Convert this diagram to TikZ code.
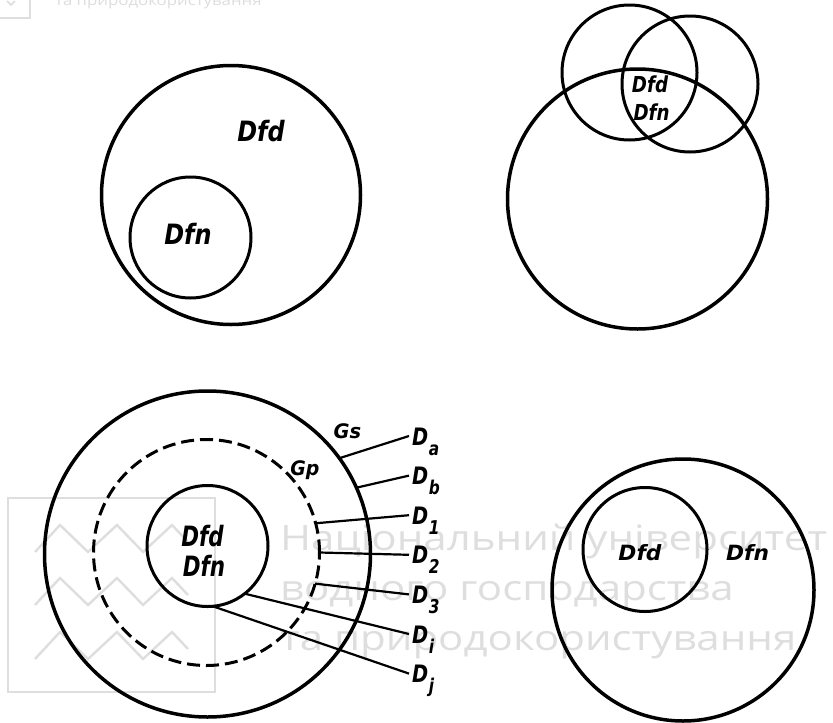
\documentclass[tikz,border=0pt]{standalone}
\usepackage{fontspec}
\usepackage{graphicx}
\setmainfont{DejaVu Sans Condensed}
\newfontfamily\lab{DejaVu Sans Condensed}
\newfontfamily\wmfont{Open Sans}
\definecolor{wm}{RGB}{222,222,222}
\newcommand{\Dsb}[1]{\scalebox{0.9}[1]{D\kern0.5pt\raisebox{-10pt}{\fontsize{19}{22}\selectfont #1}}}
\begin{document}
\begin{tikzpicture}[x=1pt,y=-1pt,
  ring/.style={circle,draw,line width=3.5pt,inner sep=0pt,outer sep=0pt},
  thinring/.style={circle,draw,line width=3pt,inner sep=0pt,outer sep=0pt},
  dashring/.style={circle,draw,line width=3pt,dash pattern=on 13pt off 6pt,inner sep=0pt,outer sep=0pt},
  lbl/.style={inner sep=0pt,font=\lab\bfseries\itshape\fontsize{28}{32}\selectfont},
  dlabel/.style={anchor=base west,inner sep=0pt,font=\lab\bfseries\itshape\fontsize{24}{28}\selectfont},
  conn/.style={line width=2.2pt},
  wmtext/.style={text=wm,anchor=base west,inner sep=0pt,font=\wmfont\fontsize{35}{40}\selectfont},
  wmline/.style={draw=wm,line width=2.4pt}]
\useasboundingbox (0,0) rectangle (833,723);
\fill[white] (0,0) rectangle (833,723);

% ---- watermark ----
\draw[wmline,line width=1.6pt] (0,18) -- (30,18) -- (30,-2);
\draw[wmline,line width=1.6pt] (7,1) -- (11,5) -- (15,1);
\node[wmtext,font=\wmfont\fontsize{14}{16}\selectfont] (wtop) at (55,5.5) {\scalebox{1.2}[1]{та природокористування}};
\draw[wmline] (8,498) rectangle (215,692);
\draw[wmline] (35,552) -- (60,525) -- (88,552) -- (117,525) -- (143,552) -- (172,525) -- (188,542);
\draw[wmline] (35,605) -- (60,578) -- (88,605) -- (117,578) -- (143,605) -- (172,578) -- (188,595);
\draw[wmline] (35,659) -- (60,632) -- (88,659) -- (117,632) -- (143,659) -- (172,632) -- (188,649);
\node[wmtext] (w1) at (280,550) {\scalebox{1.2}[1]{Національний університет}};
\node[wmtext] (w2) at (280,600) {\scalebox{1.2}[1]{водного господарства}};
\node[wmtext] (w3) at (280,650) {\scalebox{1.2}[1]{та природокористування}};

% ---- top left ----
\node[ring,minimum size=259pt] (tlbig) at (231,195) {};
\node[thinring,minimum size=121pt] (tlsmall) at (190.5,237.5) {};
\node[lbl] (tldfd) at (261,131.5) {\scalebox{0.95}[1]{Dfd}};
\node[lbl] (tldfn) at (188,233.5) {\scalebox{0.95}[1]{Dfn}};

% ---- top right ----
\node[ring,minimum size=260pt] (trbig) at (637.5,199) {};
\node[thinring,minimum size=135pt] (trl) at (629.5,72.5) {};
\node[thinring,minimum size=136pt] (trr) at (690,84) {};
\node[lbl,font=\lab\bfseries\itshape\fontsize{22}{25}\selectfont] (trdfd) at (650,84) {\scalebox{0.92}[1]{Dfd}};
\node[lbl,font=\lab\bfseries\itshape\fontsize{22}{25}\selectfont] (trdfn) at (651.5,112) {\scalebox{0.92}[1]{Dfn}};

% ---- bottom left ----
\node[ring,minimum size=326pt] (outer) at (207.5,554) {};
\node[dashring,minimum size=226pt] (mid) at (206.5,552.5) {};
\node[thinring,minimum size=121pt] (inner) at (207.5,546) {};
\node[lbl] (bldfd) at (202.5,536) {\scalebox{0.85}[1]{Dfd}};
\node[lbl] (bldfn) at (204,566) {\scalebox{0.85}[1]{Dfn}};
\node[lbl,font=\lab\bfseries\itshape\fontsize{20}{22}\selectfont] (gs) at (347.5,431.5) {\scalebox{1.08}[1]{Gs}};
\node[lbl,font=\lab\bfseries\itshape\fontsize{20}{22}\selectfont,anchor=base] (gp) at (305,475) {\scalebox{1.05}[1]{Gp}};

\node[dlabel] (Da) at (412,445) {\Dsb{a}};
\node[dlabel] (Db) at (412,484.6) {\Dsb{b}};
\node[dlabel] (D1) at (412,524.2) {\Dsb{1}};
\node[dlabel] (D2) at (412,563.8) {\Dsb{2}};
\node[dlabel] (D3) at (412,603.4) {\Dsb{3}};
\node[dlabel] (Di) at (412,643) {\Dsb{i}};
\node[dlabel] (Dj) at (412,682.6) {\Dsb{j}};

\draw[conn] (outer.36) -- ([xshift=-3pt,yshift=9pt]Da.base west);
\draw[conn] (outer.24) -- ([xshift=-3pt,yshift=9pt]Db.base west);
\draw[conn] (mid.15) -- ([xshift=-3pt,yshift=9pt]D1.base west);
\draw[conn] (mid.0) -- ([xshift=-3pt,yshift=9pt]D2.base west);
\draw[conn] (mid.-16) -- ([xshift=-3pt,yshift=9pt]D3.base west);
\draw[conn] (inner.-52) -- ([xshift=-3pt,yshift=9pt]Di.base west);
\draw[conn] (inner.-85) -- ([xshift=-3pt,yshift=9pt]Dj.base west);

% ---- bottom right ----
\node[ring,minimum size=262pt] (brbig) at (683,590) {};
\node[thinring,minimum size=124pt] (brsmall) at (645,549.5) {};
\node[lbl,font=\lab\bfseries\itshape\fontsize{21}{24}\selectfont] (brdfd) at (640,552.5) {\scalebox{1.15}[1]{Dfd}};
\node[lbl,font=\lab\bfseries\itshape\fontsize{21}{24}\selectfont] (brdfn) at (747.5,552.5) {\scalebox{1.15}[1]{Dfn}};
\end{tikzpicture}
\end{document}
